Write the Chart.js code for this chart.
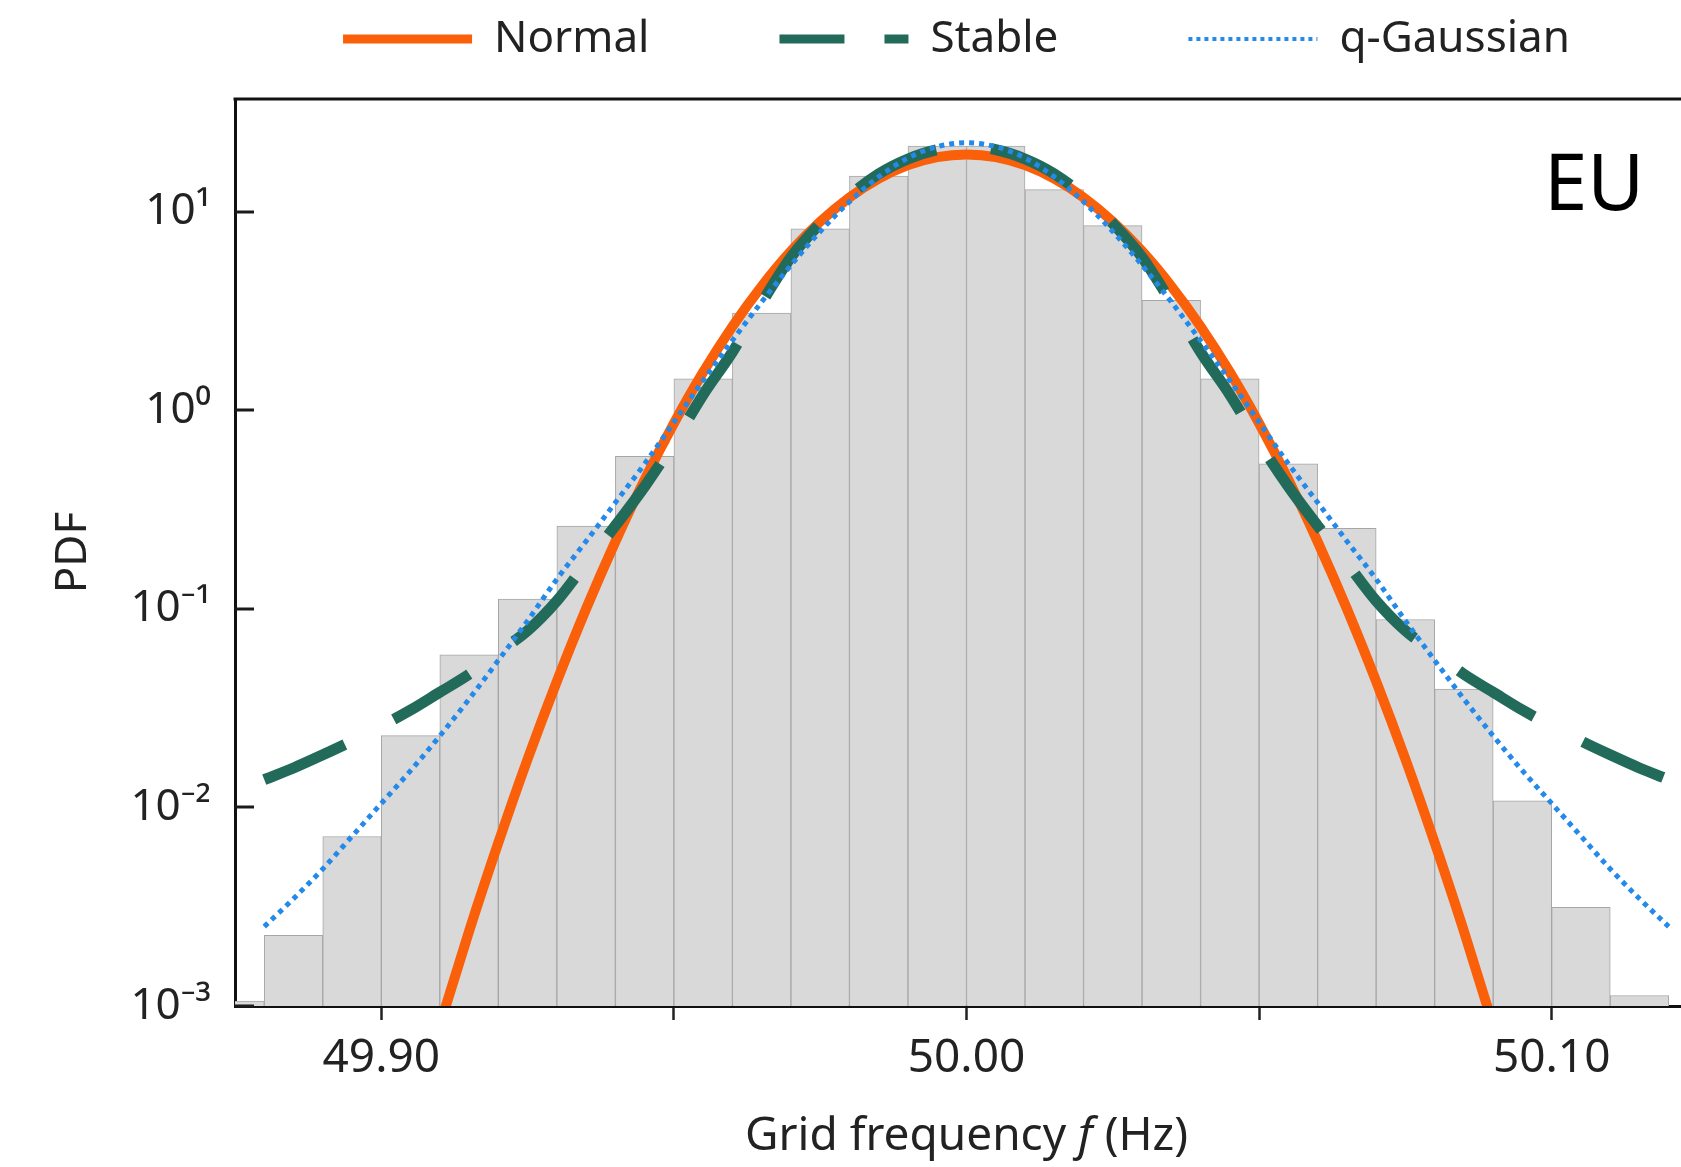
<!DOCTYPE html>
<html>
<head>
<meta charset="utf-8">
<script src="https://cdn.jsdelivr.net/npm/chart.js@4.4.1/dist/chart.umd.min.js"></script>
<style>
html, body { margin: 0; padding: 0; background: #ffffff; overflow: hidden; }
#wrap { width: 1720px; height: 1167px; position: relative; }
canvas { display: block; }
</style>
</head>
<body>
<div id="wrap"><canvas id="c" width="1720" height="1167"></canvas></div>
<script>
// ---------------- DATA ----------------
// Histogram bins (bin centres, Hz) and their PDF heights
const binCenters = [49.875, 49.885, 49.895, 49.905, 49.915, 49.925, 49.935, 49.945, 49.955, 49.965,
                    49.975, 49.985, 49.995, 50.005, 50.015, 50.025, 50.035, 50.045, 50.055, 50.065,
                    50.075, 50.085, 50.095, 50.105, 50.115];
const binPdf = [0.00106, 0.00227, 0.00714, 0.0230, 0.0586, 0.112, 0.261, 0.585, 1.44, 3.08,
                8.2, 15.1, 21.4, 21.4, 12.9, 8.5, 3.58, 1.44, 0.537, 0.254,
                0.0883, 0.0394, 0.0108, 0.00314, 0.00113];

// Frequencies at which the fitted curves were read (Hz)
const curveFreq = [49.880, 49.885, 49.890, 49.895, 49.900, 49.905, 49.910, 49.915, 49.920, 49.925,
                   49.930, 49.935, 49.940, 49.945, 49.950, 49.955, 49.960, 49.965, 49.970, 49.975,
                   49.980, 49.985, 49.990, 49.995, 50.000, 50.005, 50.010, 50.015, 50.020, 50.025,
                   50.030, 50.035, 50.040, 50.045, 50.050, 50.055, 50.060, 50.065, 50.070, 50.075,
                   50.080, 50.085, 50.090, 50.095, 50.100, 50.105, 50.110, 50.115, 50.120];

const normalPdf = [null, null, null, null, null, 0.000252, 0.000798, 0.00238, 0.00664, 0.0175,
                   0.0431, 0.100, 0.218, 0.447, 0.859, 1.554, 2.64, 4.21, 6.32, 8.90,
                   11.79, 14.66, 17.14, 18.82, 19.41, 18.82, 17.14, 14.66, 11.79, 8.90,
                   6.32, 4.21, 2.64, 1.554, 0.859, 0.447, 0.218, 0.100, 0.0431, 0.0175,
                   0.00664, 0.00238, 0.000798, 0.000252, null, null, null, null, null];

const stablePdf = [0.0138, 0.0158, 0.0184, 0.0216, 0.0257, 0.0309, 0.0380, 0.0468, 0.0603, 0.0776,
                   0.1096, 0.170, 0.262, 0.413, 0.687, 1.197, 1.963, 3.47, 5.89, 8.71,
                   12.02, 15.49, 18.41, 20.51, 21.28, 20.51, 18.41, 15.49, 12.02, 8.71,
                   5.89, 3.47, 1.963, 1.197, 0.687, 0.413, 0.262, 0.170, 0.1096, 0.0776,
                   0.0603, 0.0468, 0.0380, 0.0309, 0.0257, 0.0216, 0.0184, 0.0158, 0.0138];

const qGaussPdf = [0.00251, 0.00347, 0.00490, 0.00716, 0.01047, 0.0153, 0.0229, 0.0351, 0.0550, 0.0871,
                   0.141, 0.219, 0.343, 0.537, 0.871, 1.413, 2.244, 3.51, 5.37, 7.94,
                   11.22, 14.96, 18.62, 21.23, 22.23, 21.23, 18.62, 14.96, 11.22, 7.94,
                   5.37, 3.51, 2.244, 1.413, 0.871, 0.537, 0.343, 0.219, 0.141, 0.0871,
                   0.0550, 0.0351, 0.0229, 0.0153, 0.01047, 0.00716, 0.00490, 0.00347, 0.00251];

const seriesNames = ['Normal', 'Stable', 'q-Gaussian'];
const xTickValues = [49.90, 49.95, 50.00, 50.05, 50.10];
const xTickLabels = ['49.90', '', '50.00', '', '50.10'];
const yTickValues = [0.001, 0.01, 0.1, 1, 10];
const yTickLabels = ['10\u207B\u00B3', '10\u207B\u00B2', '10\u207B\u00B9', '10\u2070', '10\u00B9'];
const xAxisTitle = ['Grid frequency ', 'f', ' (Hz)'];
const yAxisTitle = 'PDF';
const panelLabel = 'EU';

// ---------------- STYLE ----------------
const FONT = '"Noto Sans", "Open Sans", "DejaVu Sans", sans-serif';
const TEXT = '#222222';
const COL_NORMAL = '#fa5f0a';
const COL_STABLE = '#226b5b';
const COL_QGAUSS = '#2389ea';

const toPoints = (xs, ys) => xs.map((x, i) => ({ x: x, y: ys[i] }));

const legendTweak = {
  id: 'legendTweak',
  beforeInit(chart) {
    const origFit = chart.legend.fit;
    chart.legend.fit = function () {
      origFit.bind(chart.legend)();
      this.height = 99;
    };
  },
  afterLayout(chart) {
    const lg = chart.legend;
    const pad = lg.options.labels.padding;
    const centre = 956.5;
    lg.left = centre - 820;
    lg.right = centre + 820;
    lg.width = lg.right - lg.left;
    lg.top = 17 - pad;
  }
};

const decorations = {
  id: 'decorations',
  afterDraw(chart) {
    const { ctx, chartArea } = chart;
    const yScale = chart.scales.y;
    ctx.save();
    // top frame line
    ctx.strokeStyle = '#111111';
    ctx.lineWidth = 3;
    ctx.beginPath();
    ctx.moveTo(chartArea.left - 1.5, chartArea.top);
    ctx.lineTo(chartArea.right, chartArea.top);
    ctx.stroke();
    // inward y tick marks
    ctx.lineWidth = 3;
    ctx.strokeStyle = '#1a1a1a';
    yTickValues.forEach(v => {
      const py = Math.round(yScale.getPixelForValue(v));
      ctx.beginPath();
      ctx.moveTo(chartArea.left, py);
      ctx.lineTo(chartArea.left + 19, py);
      ctx.stroke();
    });
    // panel label
    ctx.fillStyle = '#000000';
    ctx.textBaseline = 'alphabetic';
    ctx.textAlign = 'left';
    ctx.font = '78px ' + FONT;
    ctx.fillText(panelLabel, 1544, 210);
    // x axis title with italic f
    const fonts = ['46px ' + FONT, 'italic 46px ' + FONT, '46px ' + FONT];
    const widths = xAxisTitle.map((t, i) => { ctx.font = fonts[i]; return ctx.measureText(t).width; });
    const total = widths.reduce((a, b) => a + b, 0);
    let x = (chartArea.left + chartArea.right) / 2 - total / 2;
    ctx.fillStyle = TEXT;
    ctx.textBaseline = 'middle';
    xAxisTitle.forEach((t, i) => {
      ctx.font = fonts[i];
      ctx.fillText(t, x, 1137);
      x += widths[i];
    });
    ctx.restore();
  }
};

const chart = new Chart(document.getElementById('c').getContext('2d'), {
  type: 'bar',
  data: {
    datasets: [
      {
        type: 'line', label: seriesNames[0], data: toPoints(curveFreq, normalPdf),
        borderColor: COL_NORMAL, backgroundColor: COL_NORMAL, borderWidth: 10,
        pointRadius: 0, pointHoverRadius: 0, cubicInterpolationMode: 'monotone',
        borderCapStyle: 'butt', fill: false, spanGaps: false, clip: 0, order: 3
      },
      {
        type: 'line', label: seriesNames[1], data: toPoints(curveFreq, stablePdf),
        borderColor: COL_STABLE, backgroundColor: COL_STABLE, borderWidth: 11, borderDash: [88, 55],
        pointRadius: 0, pointHoverRadius: 0, cubicInterpolationMode: 'monotone',
        borderCapStyle: 'butt', fill: false, clip: 0, order: 2
      },
      {
        type: 'line', label: seriesNames[2], data: toPoints(curveFreq, qGaussPdf),
        borderColor: COL_QGAUSS, backgroundColor: COL_QGAUSS, borderWidth: 5, borderDash: [5, 5],
        pointRadius: 0, pointHoverRadius: 0, cubicInterpolationMode: 'monotone',
        borderCapStyle: 'butt', fill: false, clip: 0, order: 1
      },
      {
        type: 'bar', label: '', data: toPoints(binCenters, binPdf),
        backgroundColor: '#d9d9d9', borderColor: '#a6a6a6', borderWidth: 1,
        barPercentage: 1, categoryPercentage: 1, grouped: false, clip: 0, order: 4
      }
    ]
  },
  options: {
    responsive: false,
    animation: false,
    devicePixelRatio: 1,
    layout: { padding: { left: 0, right: 22, top: 0, bottom: 0 } },
    plugins: {
      tooltip: { enabled: false },
      legend: {
        display: true,
        position: 'top',
        align: 'center',
        labels: {
          usePointStyle: true,
          pointStyle: 'line',
          pointStyleWidth: 129,
          padding: 130,
          color: TEXT,
          font: { family: FONT, size: 44 },
          filter: item => item.text !== '',
          sort: (a, b) => a.datasetIndex - b.datasetIndex,
          generateLabels: (chart) => {
            const items = Chart.defaults.plugins.legend.labels.generateLabels(chart);
            items.forEach(it => {
              const ds = chart.data.datasets[it.datasetIndex];
              it.strokeStyle = ds.borderColor;
              it.fillStyle = ds.borderColor;
              it.lineCap = 'butt';
              if (it.text === seriesNames[0]) { it.lineWidth = 9; it.lineDash = []; }
              if (it.text === seriesNames[1]) { it.lineWidth = 9; it.lineDash = [65, 40]; }
              if (it.text === seriesNames[2]) { it.lineWidth = 4; it.lineDash = [4, 4]; }
            });
            return items;
          }
        }
      }
    },
    scales: {
      x: {
        type: 'linear',
        position: 'bottom',
        offset: false,
        min: 49.875,
        max: 50.125,
        afterBuildTicks: (scale) => { scale.ticks = xTickValues.map(v => ({ value: v })); },
        afterFit: (scale) => { scale.height = 161; },
        grid: { display: true, offset: false, drawOnChartArea: false, drawTicks: true, tickLength: 14, tickWidth: 2.5, tickColor: '#222222' },
        border: { display: true, color: '#111111', width: 3 },
        ticks: {
          autoSkip: false, maxRotation: 0, minRotation: 0, padding: 11,
          color: TEXT, font: { family: FONT, size: 46 },
          callback: (v) => { const i = xTickValues.findIndex(t => Math.abs(t - v) < 1e-9); return i >= 0 ? xTickLabels[i] : ''; }
        },
        title: { display: false }
      },
      y: {
        type: 'logarithmic',
        position: 'left',
        min: 0.001,
        max: 36.9,
        afterBuildTicks: (scale) => { scale.ticks = yTickValues.map(v => ({ value: v })); },
        afterFit: (scale) => { scale.width = 235; },
        grid: { display: false, drawOnChartArea: false, drawTicks: false },
        border: { display: true, color: '#111111', width: 3 },
        ticks: {
          autoSkip: false, padding: 24, color: TEXT, font: { family: FONT, size: 44 },
          callback: (v) => { const i = yTickValues.findIndex(t => Math.abs(t - v) / t < 1e-6); return i >= 0 ? yTickLabels[i] : ''; }
        },
        title: {
          display: true, text: yAxisTitle, color: TEXT,
          font: { family: FONT, size: 44 }, padding: { top: 47, bottom: 0 }
        }
      }
    }
  },
  plugins: [legendTweak, decorations]
});
</script>
</body>
</html>
